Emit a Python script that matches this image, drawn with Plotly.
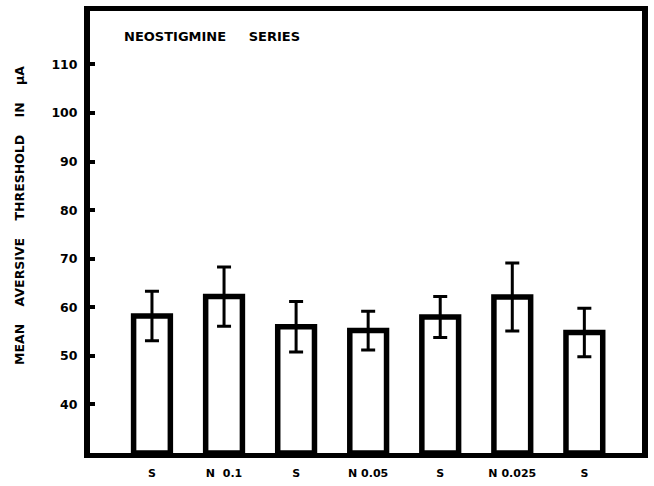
import plotly.graph_objects as go

labels = ["S", "N\u00a0\u00a00.1", "S", "N\u00a00.05", "S", "N\u00a00.025", "S"]
means = [58.2, 62.2, 56.0, 55.2, 58.0, 62.1, 54.8]
errors = [5.1, 6.1, 5.2, 4.0, 4.2, 7.0, 5.0]
y_ticks = [40, 50, 60, 70, 80, 90, 100, 110]

xpos = list(range(len(labels)))
FONT = "DejaVu Sans"
SP = "\u00a0"

fig = go.Figure()
fig.add_trace(go.Bar(
    x=xpos, y=[m - 30 for m in means], base=30,
    width=0.51,
    marker=dict(color="white", line=dict(color="black", width=5.5)),
    error_y=dict(type="data", array=errors, visible=True, color="black",
                 thickness=3, width=7),
    hoverinfo="skip",
))

fig.update_layout(
    width=654, height=486,
    margin=dict(l=90, r=7, t=6, b=27),
    paper_bgcolor="white", plot_bgcolor="white",
    showlegend=False,
    font=dict(family=FONT, color="black"),
    xaxis=dict(
        range=[-0.86, 6.80], tickmode="array", tickvals=xpos, ticktext=labels,
        showgrid=False, zeroline=False, showline=True, linecolor="black",
        linewidth=5, mirror=True, ticks="", ticklabelstandoff=6,
        tickfont=dict(family=FONT, size=11, weight="bold"),
    ),
    yaxis=dict(
        range=[30, 121], tickmode="array", tickvals=y_ticks,
        ticktext=[str(v) for v in y_ticks],
        showgrid=False, zeroline=False, showline=True, linecolor="black",
        linewidth=6, mirror=True, ticks="inside", ticklen=5, tickwidth=4,
        tickcolor="black", ticklabelstandoff=4,
        tickfont=dict(family=FONT, size=12.5, weight="bold"),
    ),
    annotations=[
        dict(text="NEOSTIGMINE" + SP * 5 + "SERIES", xref="paper", yref="paper",
             x=(122 - 90) / 557, y=(459 - 32) / 453, xanchor="left", yanchor="middle",
             showarrow=False, font=dict(family=FONT, size=13, weight="bold")),
        dict(text=(SP * 4).join(["MEAN", "AVERSIVE", "THRESHOLD", "IN", "\u03bcA"]),
             xref="paper", yref="paper", x=0, xshift=-70, y=(459 - 216) / 453,
             xanchor="center", yanchor="middle", textangle=-90, showarrow=False,
             font=dict(family=FONT, size=12.5, weight="bold")),
    ],
)

fig.write_html("out.html")
